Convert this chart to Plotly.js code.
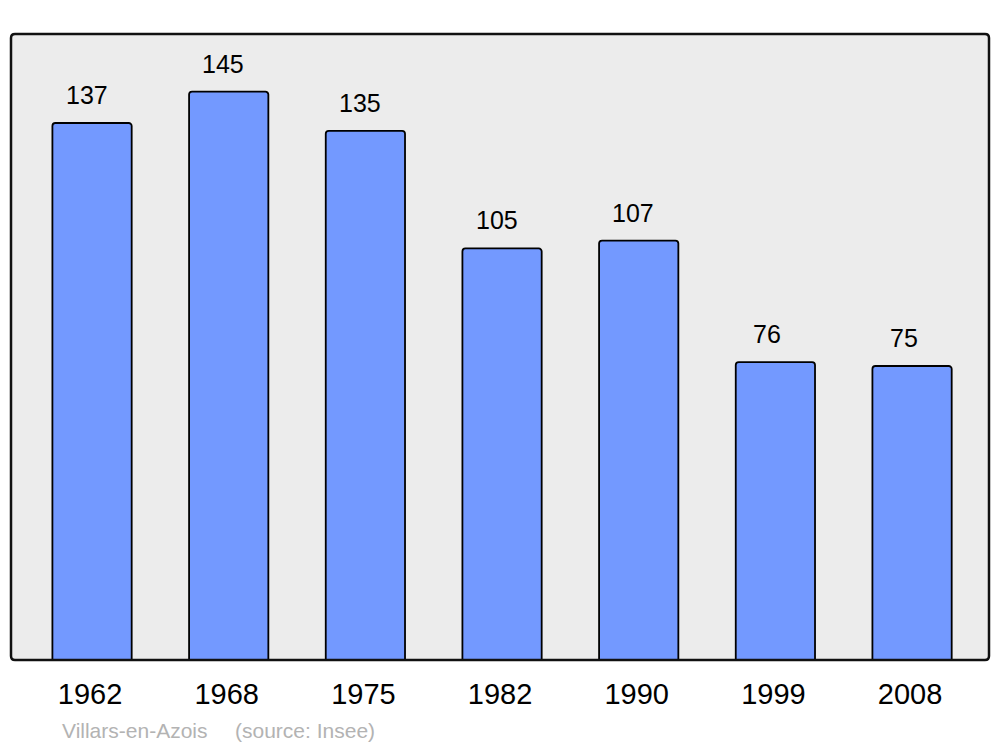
<!DOCTYPE html>
<html>
<head>
<meta charset="utf-8">
<script src="https://cdn.plot.ly/plotly-3.0.1.min.js"></script>
<style>html,body{margin:0;padding:0;background:#fff;}#chart{width:1000px;height:747px;}</style>
</head>
<body>
<div id="chart"></div>
<script>
const years = ["1962", "1968", "1975", "1982", "1990", "1999", "2008"];
const population = [137, 145, 135, 105, 107, 76, 75];
const commune = "Villars-en-Azois";
const source = "(source: Insee)";

const trace = {
  type: "bar",
  x: years,
  y: population,
  width: 0.58,
  marker: {color: "#7399ff", line: {color: "#000", width: 1.8}, cornerradius: 3},
  hoverinfo: "none"
};

const annotations = years.map((yr, i) => ({
  x: i, y: population[i], xref: "x", yref: "y",
  text: String(population[i]), showarrow: false,
  yanchor: "middle", yshift: 28,
  xshift: String(population[i]).length === 3 ? -5.5 : -8,
  font: {family: "Liberation Sans, Arial, sans-serif", size: 25, color: "#000"}
}));
annotations.push({
  xref: "paper", yref: "paper", x: (60 - 11) / 978, y: -0.112, xanchor: "left", yanchor: "middle",
  text: commune, showarrow: false,
  font: {family: "Liberation Sans, Arial, sans-serif", size: 21, color: "#b3b3b3"}
});
annotations.push({
  xref: "paper", yref: "paper", x: (233 - 11) / 978, y: -0.112, xanchor: "left", yanchor: "middle",
  text: source, showarrow: false,
  font: {family: "Liberation Sans, Arial, sans-serif", size: 21, color: "#b3b3b3"}
});

// rounded plot frame (radius ~4px) in paper coordinates
const rx = 4 / 978, ry = 4 / 626;
const framePath =
  `M ${rx} 0 L ${1 - rx} 0 Q 1 0 1 ${ry} L 1 ${1 - ry} Q 1 1 ${1 - rx} 1 ` +
  `L ${rx} 1 Q 0 1 0 ${1 - ry} L 0 ${ry} Q 0 0 ${rx} 0 Z`;

const layout = {
  width: 1000, height: 747,
  margin: {l: 11, r: 11, t: 34, b: 87, pad: 0},
  paper_bgcolor: "#ffffff",
  plot_bgcolor: "#ececec",
  showlegend: false,
  xaxis: {
    type: "category", range: [-0.593, 6.563],
    showgrid: false, zeroline: false, showline: false, ticks: "",
    ticklabelstandoff: 14, ticklabelshift: -2,
    tickfont: {family: "Liberation Sans, Arial, sans-serif", size: 29, color: "#000"}
  },
  yaxis: {
    range: [0, 159.7], showgrid: false, zeroline: false, showline: false,
    showticklabels: false, ticks: ""
  },
  shapes: [{
    type: "path", xref: "paper", yref: "paper", path: framePath,
    line: {color: "#111", width: 2.5}, layer: "above"
  }],
  annotations: annotations
};

Plotly.newPlot("chart", [trace], layout, {displayModeBar: false, staticPlot: true});
</script>
</body>
</html>
